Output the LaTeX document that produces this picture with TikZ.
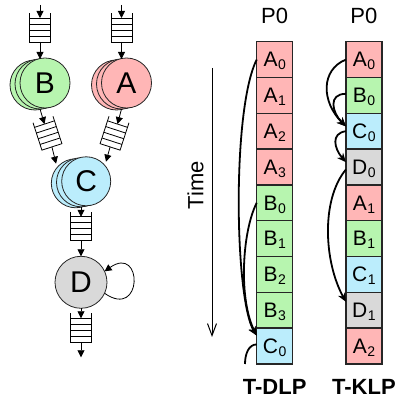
\documentclass[tikz,border=0pt]{standalone}
\usepackage{fontspec}
\setmainfont{Liberation Sans}
\usetikzlibrary{positioning,calc,arrows.meta}

\definecolor{redc}{RGB}{255,182,182}
\definecolor{greenc}{RGB}{183,245,175}
\definecolor{bluec}{RGB}{187,237,252}
\definecolor{grayc}{RGB}{217,217,217}

\newcommand{\idx}[1]{\kern0.5pt\raisebox{-3pt}{\fontsize{14}{14}\selectfont #1}}
\newcommand{\queuelines}[1]{%
	\draw[qline] ($(#1.north west)!-0.2!(#1.south west)$) -- (#1.south west) -- (#1.south east) -- ($(#1.north east)!-0.2!(#1.south east)$);
	\foreach \f in {0,0.25,0.5,0.75}
		\draw[qline] ($(#1.north west)!\f!(#1.south west)$) -- ($(#1.north east)!\f!(#1.south east)$);
}

\begin{document}
\begin{tikzpicture}[x=1pt,y=1pt,
		every node/.style={inner sep=0pt,outer sep=0pt},
		task/.style={circle,draw=black!85,line width=0.8pt,minimum size=50pt,font=\fontsize{30}{30}\selectfont},
		queue/.style={rectangle,minimum width=21pt,minimum height=24pt},
		qline/.style={line width=0.8pt},
		garr/.style={line width=0.8pt,-{Triangle[length=7pt,width=7pt]}},
		flow/.style={line width=1.8pt,-{Stealth[length=9pt,width=8pt]}},
		cell/.style={rectangle,draw=black!85,line width=1.3pt,minimum width=36pt,minimum height=35.8pt,text depth=0pt,font=\fontsize{21}{21}\selectfont},
		cA/.style={cell,fill=redc},
		cB/.style={cell,fill=greenc},
		cC/.style={cell,fill=bluec},
		cD/.style={cell,fill=grayc},
		plabel/.style={font=\fontsize{22}{22}\selectfont},
		blabel/.style={font=\fontsize{22}{22}\selectfont\bfseries}]
	\useasboundingbox (0,0) rectangle (399,398);

	% task graph
	\node[task,fill=greenc] (B2) at (35,313) {};
	\node[task,fill=greenc] (B1) at (40,314) {};
	\node[task,fill=greenc] (B) at (45,315) {B};
	\node[task,fill=redc] (A2) at (116.5,313) {};
	\node[task,fill=redc] (A1) at (121.5,314) {};
	\node[task,fill=redc] (A) at (126.5,315) {A};
	\node[task,fill=bluec,minimum size=49pt] (C2) at (75.8,214.7) {};
	\node[task,fill=bluec,minimum size=49pt] (C1) at (81,215.7) {};
	\node[task,fill=bluec,minimum size=49pt] (C) at (86.2,216.7) {C};

	\node[queue] (qB) at (40,368) {};
	\node[queue] (qA) at (121.5,368) {};
	\node[queue,rotate=18] (qBC) at (48.2,262.5) {};
	\node[queue,rotate=-18] (qAC) at (113.8,262.5) {};
	\node[queue,below=10pt of C1] (qCD) {};
	\node[task,fill=grayc,minimum size=52pt,below=15.5pt of qCD] (D) {D};
	\node[queue,below=10pt of D] (qDo) {};
	\coordinate (inB) at (40,393);
	\coordinate (inA) at (121.5,393);
	\coordinate[below=15pt of qDo] (outD);

	\queuelines{qB}
	\queuelines{qA}
	\queuelines{qBC}
	\queuelines{qAC}
	\queuelines{qCD}
	\queuelines{qDo}

	\draw[garr] (inB) -- (qB);
	\draw[garr] (inA) -- (qA);
	\draw[garr] (qB) -- (B1);
	\draw[garr] (qA) -- (A1);
	\draw[garr] (B1.south) -- (qBC.north);
	\draw[garr] (A1.south) -- (qAC.north);
	\draw[garr,shorten >=4pt] (qBC.south) -- (C2.140);
	\draw[garr,shorten >=4pt] (qAC.south) -- (C.40);
	\draw[garr] (C1) -- (qCD);
	\draw[garr] (qCD) -- (D);
	\draw[garr] (D) -- (qDo);
	\draw[garr] (qDo) -- (outD);
	\draw[garr] (D.-25) .. controls +(-35:47) and +(35:47) .. (D.25);

	% time axis
	\coordinate (tTop) at (212,330);
	\coordinate (tBot) at (212,61);
	\draw[line width=1pt,-{Straight Barb[length=12pt,width=9pt]}] (tTop) -- (tBot);
	\node[plabel,rotate=90] (time) at (195.5,213) {Time};

	% T-DLP schedule
	\node[cA] (dA0) at (274.7,338.4) {A\idx{0}};
	\node[cA,below=0pt of dA0] (dA1) {A\idx{1}};
	\node[cA,below=0pt of dA1] (dA2) {A\idx{2}};
	\node[cA,below=0pt of dA2] (dA3) {A\idx{3}};
	\node[cB,below=0pt of dA3] (dB0) {B\idx{0}};
	\node[cB,below=0pt of dB0] (dB1) {B\idx{1}};
	\node[cB,below=0pt of dB1] (dB2) {B\idx{2}};
	\node[cB,below=0pt of dB2] (dB3) {B\idx{3}};
	\node[cC,below=0pt of dB3] (dC0) {C\idx{0}};
	\node[plabel,above=18pt of dA0] (dP) {P0};
	\node[blabel,below=15.5pt of dC0] (tdlp) {T-DLP};
	\coordinate (dOut) at (245,34);

	\draw[flow] (dA0.west) .. controls +(-25,-50) and +(-22,36) .. (dC0.150);
	\draw[flow] (dB0.west) .. controls +(-15,-30) and +(-18,36) .. (dC0.150);
	\draw[line width=1.8pt] (dC0.175) .. controls +(-8,0) and +(0,10) .. (dOut);

	% T-KLP schedule
	\node[cA] (kA0) at (363.9,338.4) {A\idx{0}};
	\node[cB,below=0pt of kA0] (kB0) {B\idx{0}};
	\node[cC,below=0pt of kB0] (kC0) {C\idx{0}};
	\node[cD,below=0pt of kC0] (kD0) {D\idx{0}};
	\node[cA,below=0pt of kD0] (kA1) {A\idx{1}};
	\node[cB,below=0pt of kA1] (kB1) {B\idx{1}};
	\node[cC,below=0pt of kB1] (kC1) {C\idx{1}};
	\node[cD,below=0pt of kC1] (kD1) {D\idx{1}};
	\node[cA,below=0pt of kD1] (kA2) {A\idx{2}};
	\node[plabel,above=18pt of kA0] (kP) {P0};
	\node[blabel,below=15.5pt of kA2] (tklp) {T-KLP};

	\draw[flow] (kA0.west) .. controls +(-25,-10) and +(-25,25) .. (kC0.165);
	\draw[flow] (kB0.175) .. controls +(-18,0) and +(-14,14) .. (kC0.165);
	\draw[flow] (kC0.west) .. controls +(-15,-2) and +(-12,14) .. (kD0.165);
	\draw[flow] (kD0.188) .. controls +(-25,-30) and +(-22,40) .. (kD1.155);
\end{tikzpicture}
\end{document}
